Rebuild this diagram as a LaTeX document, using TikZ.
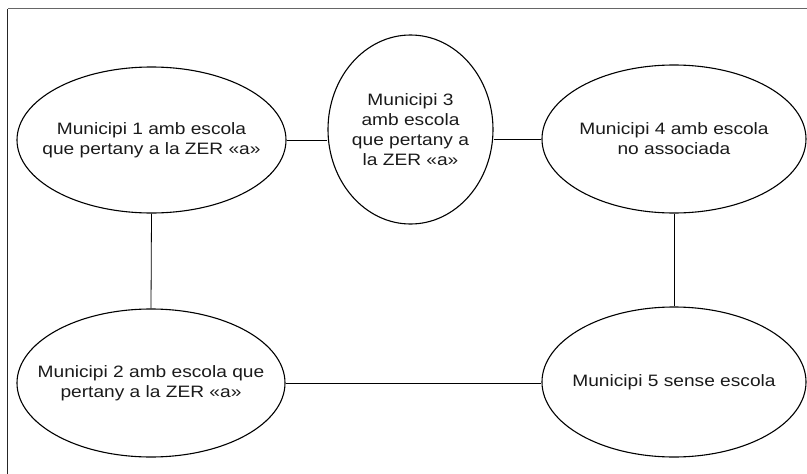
\documentclass[tikz,border=0pt]{standalone}
\usepackage{fontspec}
\setmainfont{Liberation Sans}[FakeStretch=1.16]
\usetikzlibrary{shapes.geometric}
\definecolor{txt}{HTML}{1A1A1A}
\definecolor{framegray}{HTML}{666666}
\tikzset{
  ell/.style={ellipse, draw=black, line width=1.1pt, inner sep=0pt},
  lbl/.style={align=center, inner sep=0pt, text=txt, font=\fontsize{16.5}{20}\selectfont},
  conn/.style={draw=black, line width=0.8pt},
  frameline/.style={line width=1.2pt}
}
\begin{document}
\begin{tikzpicture}[x=1pt,y=-1pt]
\useasboundingbox (0,0) rectangle (807,474);
\coordinate (fa) at (7.5,474);
\coordinate (fb) at (7.5,8.5);
\coordinate (fc) at (807,8.5);
\draw[frameline, draw=black!85, line width=1pt] (fa) -- (fb);
\draw[frameline, draw=framegray] (fb) -- (fc);
\node[ell, minimum width=269pt, minimum height=146pt] (e1) at (151.5,140) {};
\node[lbl] (t1) at (e1.center) {Municipi 1 amb escola\\que pertany a la ZER «a»};
\node[ell, minimum width=165pt, minimum height=189pt] (e3) at (410.5,129.5) {};
\node[lbl] (t3) at (e3.center) {Municipi 3\\amb escola\\que pertany a\\la ZER «a»};
\node[ell, minimum width=264pt, minimum height=148pt] (e4) at (674,139) {};
\node[lbl] (t4) at (e4.center) {Municipi 4 amb escola\\no associada};
\node[ell, minimum width=268pt, minimum height=148pt] (e2) at (151,383) {};
\node[lbl] (t2) at (e2.center) {Municipi 2 amb escola que\\pertany a la ZER «a»};
\node[ell, minimum width=264pt, minimum height=150pt] (e5) at (674,382) {};
\node[lbl] (t5) at (e5.center) {Municipi 5 sense escola};
\draw[conn] (e1.east) -- (e1.east -| e3.west);
\draw[conn] (e4.west) -- (e4.west -| e3.east);
\draw[conn] (e1.south) -- (e2.north);
\draw[conn] (e4.south) -- (e5.north);
\draw[conn] (e2.east) -- (e2.east -| e5.west);
\end{tikzpicture}
\end{document}
